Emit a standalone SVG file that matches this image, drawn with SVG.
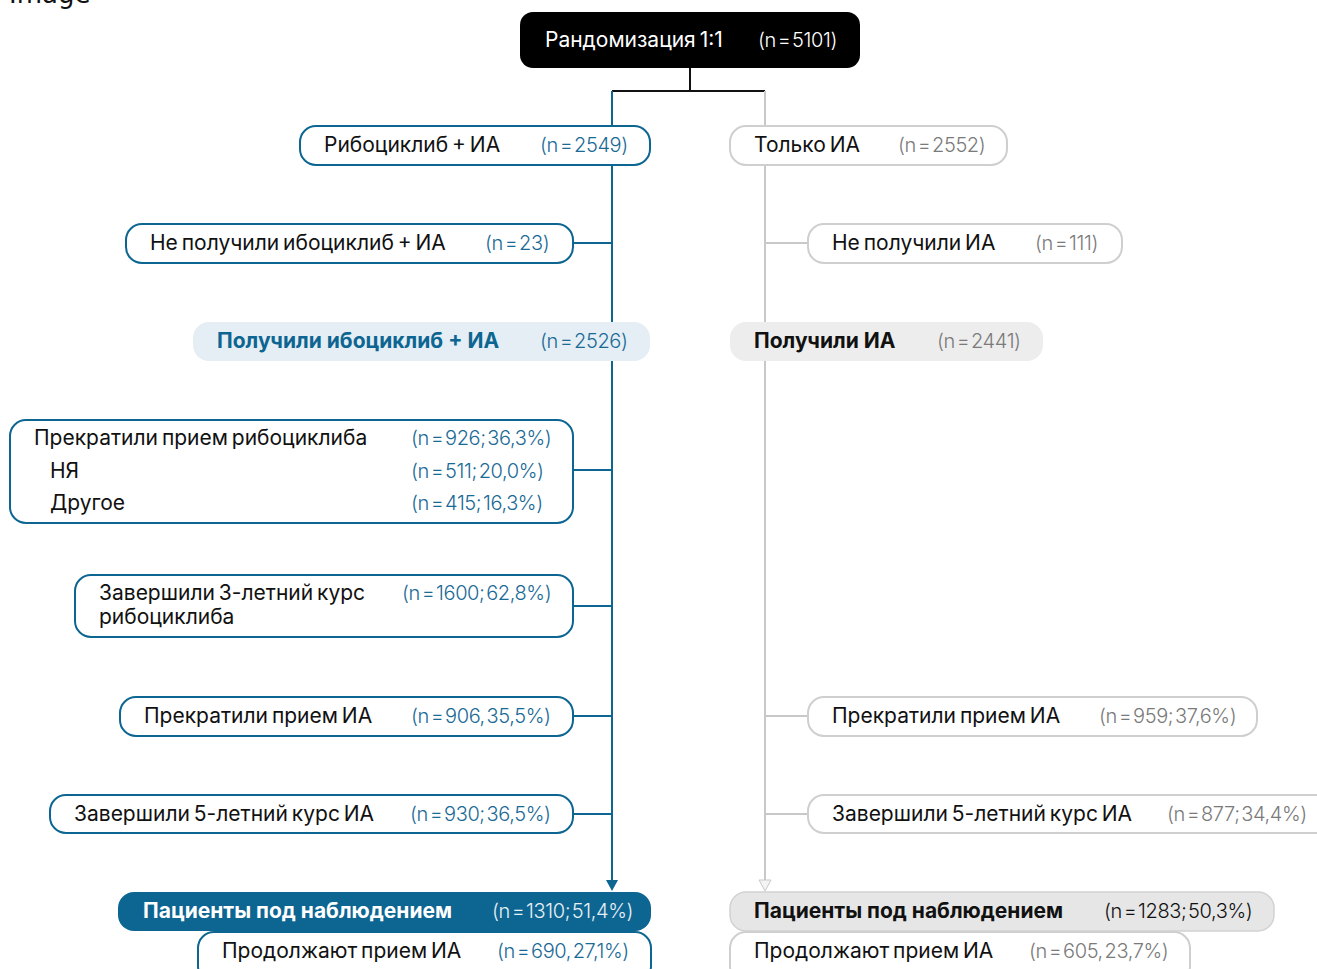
<svg xmlns="http://www.w3.org/2000/svg" width="1317" height="969" viewBox="0 0 1317 969">
<style>
text{font-family:Inter,"Noto Sans",sans-serif;font-size:21px;letter-spacing:0px;word-spacing:-2px;fill:#111}
.n{font-weight:300;font-size:20px;letter-spacing:-0.4px;word-spacing:-3.5px}
.nb{fill:#1a6a96}
.ng{fill:#7a7a7a}
.b{font-weight:700;word-spacing:0px}
.wb{fill:#fff;stroke:#0d6592;stroke-width:2}
.gr{fill:#fff;stroke:#cfcfcf;stroke-width:2}
.cb{stroke:#0d6592;stroke-width:2;fill:none}
.cg{stroke:#c8c8c8;stroke-width:2;fill:none}
</style>
<text x="9" y="3" style="font-family:'DejaVu Sans',sans-serif;font-size:26px;letter-spacing:0;word-spacing:0">Image</text>
<g id="connectors">
<path d="M690,68 V91" stroke="#111" stroke-width="2" fill="none"/>
<path d="M612,91 H765" stroke="#111" stroke-width="2" fill="none"/>
<path d="M612,91 V882" class="cb"/>
<path d="M606,880 L618,880 L612,891 Z" fill="#0d6592"/>
<path d="M765,91 V882" class="cg"/>
<path d="M759,880 L771,880 L765,891 Z" fill="#f4f4f4" stroke="#c8c8c8" stroke-width="1"/>
<path d="M573,243 H612 M573,470 H612 M573,606 H612 M573,716 H612 M573,814 H612" class="cb"/>
<path d="M765,243 H808 M765,716 H808 M765,814 H808" class="cg"/>
</g>
<g id="rand">
<rect x="520" y="12" width="340" height="56" rx="13" fill="#000"/>
<text x="545" y="47" style="fill:#fff">Рандомизация 1:<tspan style="letter-spacing:-1px">1</tspan></text>
<text x="758" y="47" class="n" style="fill:#fff">(n = 5101)</text>
</g>
<g id="ribo">
<rect x="300" y="126" width="350" height="39" rx="16" class="wb"/>
<text x="324" y="152">Рибоциклиб + ИА</text>
<text x="540" y="152" class="n nb">(n = 2549)</text>
</g>
<g id="only">
<rect x="730" y="126" width="277" height="39" rx="16" class="gr"/>
<text x="754" y="152">Только ИА</text>
<text x="898" y="152" class="n ng">(n = 2552)</text>
</g>
<g id="notribo">
<rect x="126" y="224" width="447" height="39" rx="16" class="wb"/>
<text x="150" y="250">Не получили ибоциклиб + ИА</text>
<text x="485" y="250" class="n nb">(n = 23)</text>
</g>
<g id="notonly">
<rect x="808" y="224" width="314" height="39" rx="16" class="gr"/>
<text x="832" y="250">Не получили ИА</text>
<text x="1035" y="250" class="n ng">(n = 111)</text>
</g>
<g id="gotribo">
<rect x="193" y="322" width="457" height="39" rx="16" fill="#e4eef4"/>
<text x="217" y="348" class="b" style="fill:#0d6592">Получили ибоциклиб + ИА</text>
<text x="540" y="348" class="n nb">(n = 2526)</text>
</g>
<g id="gotonly">
<rect x="730" y="322" width="313" height="39" rx="16" fill="#ededed"/>
<text x="754" y="348" class="b">Получили ИА</text>
<text x="937" y="348" class="n ng">(n = 2441)</text>
</g>
<g id="stopribo">
<rect x="10" y="420" width="563" height="103" rx="16" class="wb"/>
<text x="34" y="445">Прекратили прием рибоциклиба</text>
<text x="50" y="478">НЯ</text>
<text x="50" y="510">Другое</text>
<text x="411" y="445" class="n nb">(n = 926; 36,3%)</text>
<text x="411" y="478" class="n nb">(n = 511;  20,0%)</text>
<text x="411" y="510" class="n nb">(n = 415; 16,3%)</text>
</g>
<g id="done3">
<rect x="75" y="575" width="498" height="62" rx="16" class="wb"/>
<text x="99" y="600">Завершили 3-летний курс</text>
<text x="99" y="624">рибоциклиба</text>
<text x="402" y="600" class="n nb">(n = 1600; 62,8%)</text>
</g>
<g id="stopai-l">
<rect x="120" y="697" width="453" height="39" rx="16" class="wb"/>
<text x="144" y="723">Прекратили прием ИА</text>
<text x="411" y="723" class="n nb">(n = 906, 35,5%)</text>
</g>
<g id="done5-l">
<rect x="50" y="795" width="523" height="38" rx="16" class="wb"/>
<text x="74" y="821">Завершили 5-летний курс ИА</text>
<text x="410" y="821" class="n nb">(n = 930; 36,5%)</text>
</g>
<g id="stopai-r">
<rect x="808" y="697" width="449" height="39" rx="16" class="gr"/>
<text x="832" y="723">Прекратили прием ИА</text>
<text x="1099" y="723" class="n ng">(n = 959; 37,6%)</text>
</g>
<g id="done5-r">
<rect x="808" y="795" width="530" height="38" rx="16" class="gr"/>
<text x="832" y="821">Завершили 5-летний курс ИА</text>
<text x="1167" y="821" class="n ng">(n = 877; 34,4%)</text>
</g>
<g id="obs-l">
<rect x="118" y="892" width="533" height="39" rx="16" fill="#0d6592"/>
<text x="143" y="918" class="b" style="fill:#fff">Пациенты под наблюдением</text>
<text x="492" y="918" class="n" style="fill:#e8f0f5">(n = 1310; 51,4%)</text>
</g>
<g id="cont-l">
<rect x="198" y="932" width="453" height="50" rx="16" class="wb"/>
<text x="222" y="958">Продолжают прием ИА</text>
<text x="497" y="958" class="n nb">(n = 690, 27,1%)</text>
</g>
<g id="obs-r">
<rect x="730" y="892" width="544" height="39" rx="16" fill="#e6e6e6" stroke="#d2d2d2" stroke-width="1.5"/>
<text x="754" y="918" class="b">Пациенты под наблюдением</text>
<text x="1104" y="918" class="n">(n = 1283; 50,3%)</text>
</g>
<g id="cont-r">
<rect x="730" y="932" width="460" height="50" rx="16" class="gr"/>
<text x="754" y="958">Продолжают прием ИА</text>
<text x="1029" y="958" class="n ng">(n = 605, 23,7%)</text>
</g>
</svg>
